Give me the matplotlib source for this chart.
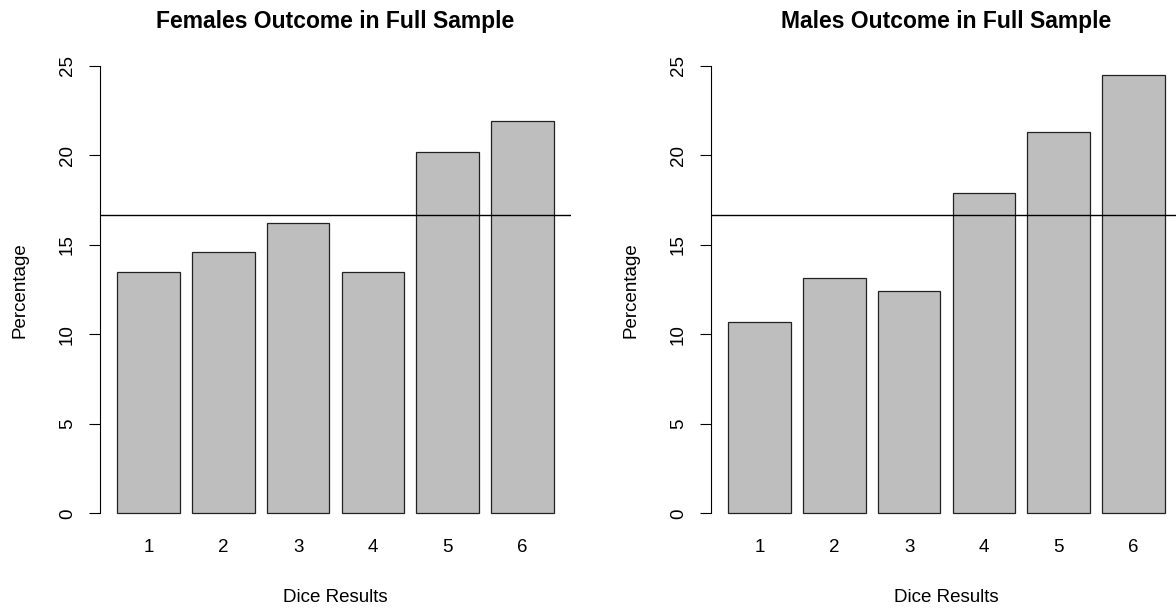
import numpy as np
import matplotlib
matplotlib.use("Agg")
import matplotlib.pyplot as plt

plt.rcParams['font.family'] = ['Liberation Sans', 'DejaVu Sans']

dice = ['1', '2', '3', '4', '5', '6']
females_pct = [13.5, 14.6, 16.2, 13.5, 20.2, 21.9]
males_pct = [10.7, 13.15, 12.4, 17.9, 21.3, 24.5]
fair_pct = 100 / 6

W, H, DPI = 1176, 608, 100
fig = plt.figure(figsize=(W / DPI, H / DPI), dpi=DPI)

# plot regions in pixels, R-style barplot geometry
unit = 62.3
ax_w = 7.56 * unit
y_top, y_bot = 48.1, 531.2
panels = [
    (100.0, 'Females Outcome in Full Sample', females_pct),
    (711.0, 'Males Outcome in Full Sample', males_pct),
]

for left, title, vals in panels:
    ax = fig.add_axes([left / W, (H - y_bot) / H, ax_w / W, (y_bot - y_top) / H])
    x = 0.7 + 1.2 * np.arange(len(vals))
    ax.bar(x, vals, width=1.0, color='#BEBEBE', edgecolor='#222222', linewidth=0.9)
    ax.axhline(fair_pct, color='black', linewidth=1.0)
    ax.set_xlim(-0.08, 7.48)
    ax.set_ylim(-1, 26)

    for s in ['top', 'right', 'bottom']:
        ax.spines[s].set_visible(False)
    ax.spines['left'].set_bounds(0, 25)
    ax.spines['left'].set_linewidth(0.8)

    ax.set_yticks([0, 5, 10, 15, 20, 25])
    ax.tick_params(axis='y', direction='out', length=7.9, width=0.8, pad=9.5,
                   labelsize=13.5, labelrotation=90)
    for lab in ax.get_yticklabels():
        lab.set_verticalalignment('center')
    ax.set_xticks(x)
    ax.set_xticklabels(dice)
    ax.tick_params(axis='x', length=0, pad=5.3, labelsize=13.5)

    ax.set_title(title, fontsize=16.5, fontweight='bold', pad=14.3)
    ax.text(0.5, -(602 - y_bot) / (y_bot - y_top), 'Dice Results', transform=ax.transAxes,
            ha='center', va='baseline', fontsize=13.5)
    fig.text((left - 80) / W, 1 - (y_top + y_bot) / 2 / H, 'Percentage', rotation=90,
             ha='center', va='center', fontsize=13.5)

fig.savefig('out.png', dpi=DPI)
